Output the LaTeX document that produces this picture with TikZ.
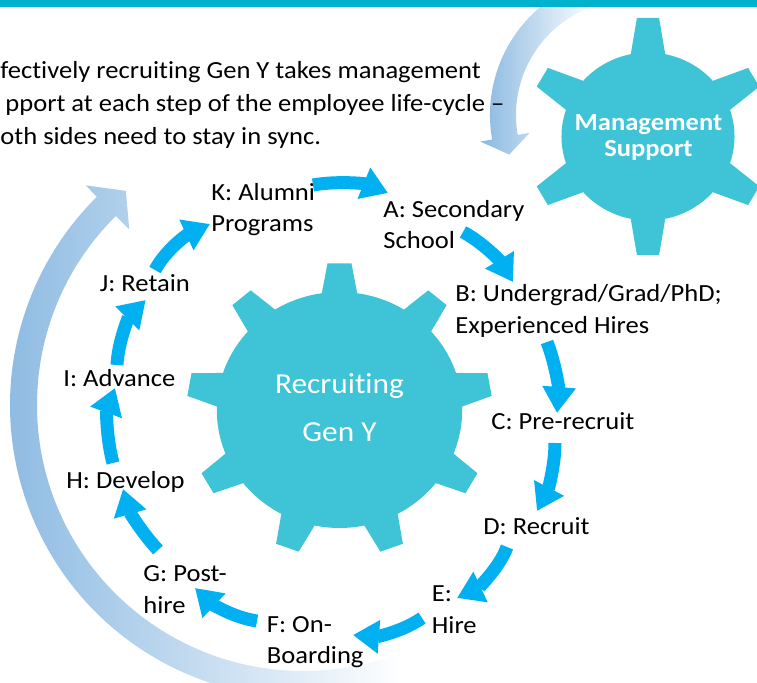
\documentclass[tikz,border=0pt]{standalone}
\usepackage{fontspec}
\setmainfont{Carlito}[FakeStretch=1.08, Ligatures={TeX,NoCommon}]
\usetikzlibrary{arrows.meta}

\definecolor{barteal}{HTML}{00B2CC}
\definecolor{cogteal}{HTML}{3EC4D6}
\definecolor{flowblue}{HTML}{00B0F0}
\definecolor{fadeblue}{HTML}{89B8E1}

\tikzset{
  cog/.style   = {fill=cogteal},
  stage/.style = {anchor=base west, inner sep=0pt, align=left,
                  font=\fontsize{12.3pt}{15.75pt}\selectfont},
  flow/.style  = {draw=flowblue, line width=6.5pt,
                  -{Triangle[length=13pt, width=16pt]}},
  fade/.style  = {left color=fadeblue, right color=white},
}

\begin{document}
\begin{tikzpicture}[x=0.5pt, y=-0.5pt]
  \useasboundingbox (0,0) rectangle (757,683);
  \clip (0,0) rectangle (757,683);

  % large faded loop arrows behind everything
  \begin{scope}[shift={(303,405)}]
    \shade[fade]
      (-290:293) arc[start angle=-290, end angle=-134.7, radius=293]
      -- (-134.7:309) -- (-129.6:278) -- (-134.7:247)
      -- (-134.7:266) arc[start angle=-134.7, end angle=-290, radius=266] -- cycle;
  \end{scope}
  \begin{scope}[shift={(631,115)}]
    \shade[fade]
      (-108:141) arc[start angle=-108, end angle=-190, radius=141]
      -- (-190:153) -- (-198:128) -- (-190:103)
      -- (-190:115) arc[start angle=-190, end angle=-108, radius=115] -- cycle;
  \end{scope}

  % gears
  \begin{scope}[shift={(339.5,410)}, xscale=1.04]
    \fill[cog] (21.7:118) \foreach \a in {30,70,...,350}
      { -- (\a-4.5:147) -- (\a+4.5:147) -- (\a+8.3:118)
        arc[start angle=\a+8.3, end angle=\a+31.7, radius=118] } -- cycle;
  \end{scope}
  \begin{scope}[shift={(648,136.5)}, xscale=1.03]
    \fill[cog] (18.5:84) \foreach \a in {30,90,...,330}
      { -- (\a-5.2:119) -- (\a+5.2:119) -- (\a+11.5:84)
        arc[start angle=\a+11.5, end angle=\a+48.5, radius=84] } -- cycle;
  \end{scope}

  \node[anchor=base, inner sep=0pt, align=center, text=white,
        font=\fontsize{14.5pt}{24pt}\selectfont] (genY) at (339.5,441.7) {Recruiting\\Gen Y};
  \node[anchor=base, inner sep=0pt, align=center, text=white,
        font=\fontsize{12.3pt}{13pt}\selectfont\bfseries] (mgmt) at (648.5,156.7) {Management\\Support};

  % intro text
  \node[anchor=base west, inner sep=0pt, align=left,
        font=\fontsize{12.3pt}{16.5pt}\selectfont] (intro) at (0,145)
    {fectively recruiting Gen Y takes management\\
     \hspace*{2.5pt}pport at each step of the employee life-cycle –\\
     oth sides need to stay in sync.};

  % life-cycle stages (base = last line)
  \node[stage] (alumni)     at (211,232)     {K: Alumni\\Programs};
  \node[stage] (school)     at (383,249)     {A: Secondary\\School};
  \node[stage] (degree)     at (455,333.3)   {B: Undergrad/Grad/PhD;\\Experienced Hires};
  \node[stage] (prerecruit) at (491,430)     {C: Pre-recruit};
  \node[stage] (recruit)    at (483,535)     {D: Recruit};
  \node[stage] (hire)       at (431.5,633.3) {E:\\Hire};
  \node[stage] (onboard)    at (266.5,664)   {F: On-\\Boarding};
  \node[stage] (posthire)   at (143,613.3)   {G: Post-\\hire};
  \node[stage] (develop)    at (66,488.3)    {H: Develop};
  \node[stage] (advance)    at (63,386.7)    {I: Advance};
  \node[stage] (retain)     at (99.5,291.7)  {J: Retain};

  % arrows between the stages
  \draw[flow] ([shift={(102,-47)}]alumni.base west)
    .. controls +(24.6,-4.3) and +(-23.2,-9.4) .. ([shift={(5,-56)}]school.base west);
  \draw[flow] ([shift={(80,-17)}]school.base west)
    .. controls +(20.8,11.1) and +(-12.3,-20.2) .. ([shift={(58,-51.3)}]degree.base west);
  \draw[flow] ([shift={(92,8.7)}]degree.base west)
    .. controls +(8.6,22.4) and +(1.9,-23.9) .. ([shift={(66,-17)}]prerecruit.base west);
  \draw[flow] ([shift={(64,13)}]prerecruit.base west)
    .. controls +(0,23) and +(10.7,-20.4) .. ([shift={(54,-24)}]recruit.base west);
  \draw[flow] ([shift={(24,12)}]recruit.base west)
    .. controls +(-7.7,21.2) and +(20.5,-9.6) .. ([shift={(25.5,-35.3)}]hire.base west);
  \draw[flow] ([shift={(-9.5,-15.3)}]hire.base west)
    .. controls +(-19.4,13.6) and +(23.6,1.7) .. ([shift={(86.5,-29)}]onboard.base west);
  \draw[flow] ([shift={(-9.5,-43)}]onboard.base west)
    .. controls +(-23.2,-3.3) and +(17.1,16) .. ([shift={(52,-25.3)}]posthire.base west);
  \draw[flow] ([shift={(15,-63.3)}]posthire.base west)
    .. controls +(-16.2,-17.3) and +(6.5,22.8) .. ([shift={(57,0.7)}]develop.base west);
  \draw[flow] ([shift={(47,-25.3)}]develop.base west)
    .. controls +(-6.5,-24.1) and +(-8.6,23.5) .. ([shift={(52,1.3)}]advance.base west);
  \draw[flow] ([shift={(54,-21.7)}]advance.base west)
    .. controls +(1.2,-23.7) and +(-16.8,16.8) .. ([shift={(46.2,8.3)}]retain.base west);
  \draw[flow] ([shift={(55.5,-21.7)}]retain.base west)
    .. controls +(11.3,-21.2) and +(-21.8,10.1) .. ([shift={(-1,-8)}]alumni.base west);

  % title bar
  \fill[barteal] (0,0) rectangle (757,7);
\end{tikzpicture}
\end{document}
